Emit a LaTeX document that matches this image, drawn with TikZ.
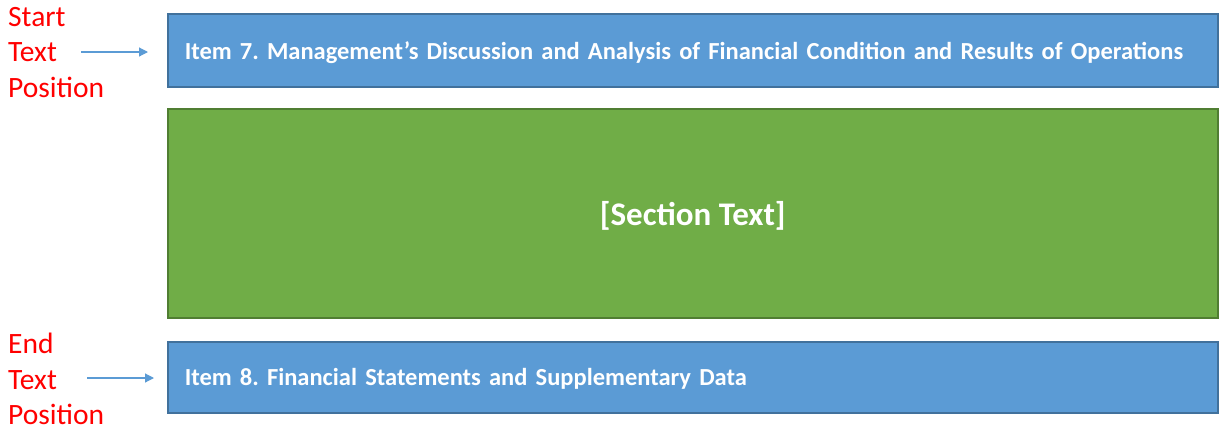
\documentclass[tikz,border=0pt]{standalone}
\usepackage{fontspec}
\setmainfont{Carlito}
\usetikzlibrary{arrows.meta}
\definecolor{officeblue}{HTML}{5B9BD5}
\definecolor{blueedge}{HTML}{41719C}
\definecolor{officegreen}{HTML}{70AD47}
\definecolor{greenedge}{HTML}{507E32}
\definecolor{labelred}{HTML}{FF0000}
\tikzset{
  bluebox/.style={draw=blueedge, fill=officeblue, line width=1.5pt, text=white,
    font=\fontsize{24.5}{29}\selectfont\bfseries\frenchspacing, minimum width=1050pt,
    inner xsep=17pt, text width=1016pt, text depth=0pt, align=left, anchor=north west},
  greenbox/.style={draw=greenedge, fill=officegreen, line width=1.5pt, text=white,
    font=\fontsize{33}{38}\selectfont\bfseries, minimum width=1050pt, text depth=0pt,
    minimum height=209pt, anchor=north west},
  redlabel/.style={text=labelred, font=\fontsize{29.5}{35.5}\selectfont, align=left,
    anchor=north west, inner sep=0pt},
  arr/.style={draw=officeblue, line width=1.2pt, -{Triangle[length=9pt,width=9pt]}}
}
\begin{document}
\begin{tikzpicture}[x=1pt,y=-1pt]
\useasboundingbox (0,0) rectangle (1224,437);
\node[bluebox, minimum height=73pt] (item7) at (167,13)
  {Item 7. Management’s Discussion and Analysis of Financial Condition and Results of Operations};
\node[greenbox] (section) at (167,108) {[Section Text]};
\node[bluebox, minimum height=71pt] (item8) at (167,341)
  {Item 8. Financial Statements and Supplementary Data};
\node[redlabel] (startlbl) at (8,7) {Start\\Text\\Position};
\node[redlabel] (endlbl) at (8,333) {End\\Text\\Position};
\coordinate (a1s) at (81,52);
\coordinate (a1e) at (148,52);
\coordinate (a2s) at (87,378);
\coordinate (a2e) at (154,378);
\draw[arr] (a1s) -- (a1e);
\draw[arr] (a2s) -- (a2e);
\end{tikzpicture}
\end{document}
